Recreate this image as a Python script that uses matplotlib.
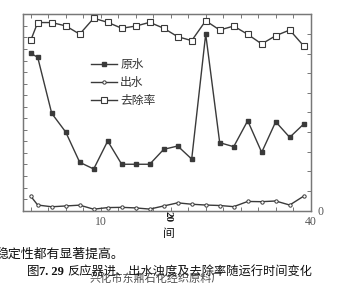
import matplotlib
matplotlib.use("Agg")
import matplotlib.pyplot as plt
import numpy as np

days = [0, 1, 3, 5, 7, 9, 11, 13, 15, 17, 19, 21, 23, 25, 27, 29, 31, 33, 35, 37, 39]
raw_water = [13.62, 13.28, 8.43, 6.81, 4.19, 3.61, 6.03, 4.02, 4.02, 4.02, 5.31, 5.60,
             4.47, 15.29, 5.89, 5.54, 7.79, 5.05, 7.70, 6.35, 7.50]
out_water = [1.26, 0.49, 0.34, 0.41, 0.48, 0.13, 0.27, 0.29, 0.24, 0.14, 0.41, 0.68,
             0.56, 0.49, 0.45, 0.35, 0.80, 0.78, 0.84, 0.49, 1.26]
removal = [86.7, 95.8, 95.8, 94.1, 89.9, 98.0, 95.9, 92.9, 94.0, 95.9, 92.9, 88.6,
           86.6, 96.7, 92.0, 94.0, 89.8, 84.9, 89.1, 92.0, 83.9]
xtick_labels = {10: "10", 40: "40"}
legend_labels = ["原水", "出水", "去除率"]

W, H = 356, 295
fig = plt.figure(figsize=(W / 100, H / 100), dpi=100)
fig.patch.set_facecolor("white")
ax = fig.add_axes([23 / W, (H - 210.7) / H, 287.7 / W, 196.4 / H])
ax2 = ax.twinx()

lc = "#3a3a3a"
cjk = ["Noto Sans CJK SC", "DejaVu Sans"]

l1, = ax.plot(days, raw_water, color=lc, lw=1.0, marker="s", ms=3.2,
              mfc=lc, mec=lc)
l2, = ax.plot(days, out_water, color=lc, lw=1.0, marker="o", ms=2.4,
              mfc="white", mec=lc, mew=0.7)
l3, = ax2.plot(days, removal, color=lc, lw=1.0, marker="s", ms=4.4,
               mfc="white", mec=lc, mew=0.8)

ax.set_xlim(-1.1, 40)
ax.set_ylim(0, 17)
ax2.set_ylim(0, 100)

xt = np.arange(0, 40.1, 2.5)
ax.set_xticks(xt)
ax.set_xticklabels([xtick_labels.get(int(t), "") if t == int(t) else "" for t in xt],
                   family="Liberation Serif", fontsize=8.5, color="#555555")
ax.tick_params(axis="x", pad=3)
ax.set_yticks(np.arange(0, 17.1, 1))
ax.set_yticklabels([])
ax2.set_yticks(np.arange(0, 100.1, 10))
ax2.set_yticklabels(["0"] + [""] * 10, family="Liberation Serif", fontsize=8.5, color="#555555")

for a in (ax, ax2):
    for s in a.spines.values():
        s.set_color("#777777")
        s.set_linewidth(0.9)
ax.tick_params(axis="x", direction="in", length=3, width=0.7, color="#777777",
               top=True, pad=4)
ax.tick_params(axis="y", direction="in", length=3, width=0.7, color="#777777")
ax2.tick_params(axis="y", direction="in", length=3, width=0.7, color="#777777", pad=5)

leg = ax.legend([l1, l2, l3], legend_labels, loc="upper left",
                bbox_to_anchor=(0.198, 0.83), frameon=False,
                prop={"family": cjk, "size": 8.5}, handlelength=2.2,
                handletextpad=0.3, labelspacing=0.42, labelcolor="#333333")

# rotated "20" tick label and axis label fragment
fig.text(168 / W, 1 - 217 / H, "20", rotation=270, ha="center", va="center",
         fontsize=8, fontweight="bold", family="Liberation Serif", color="#111111")
fig.text(169 / W, 1 - 233 / H, "间", ha="center", va="center",
         fontsize=8.5, family=cjk, color="#111111")

fig.text(-4 / W, 1 - 254 / H, "稳定性都有显著提高。", ha="left", va="center",
         fontsize=9.3, family=cjk, color="#111111")
fig.text(27 / W, 1 - 272 / H, "图", ha="left", va="center",
         fontsize=9, family=cjk, color="#111111")
fig.text(39 / W, 1 - 272 / H, "7. 29", ha="left", va="center",
         fontsize=9, fontweight="bold", family="Liberation Serif", color="#111111")
fig.text(67 / W, 1 - 272 / H, "反应器进、出水浊度及去除率随运行时间变化", ha="left", va="center",
         fontsize=8.8, family=cjk, color="#111111")
fig.text(90 / W, 1 - 279 / H, "兴化市东鼎石化经织原料厂", ha="left", va="center",
         fontsize=8, family=cjk, color="#222222", alpha=0.8)

fig.savefig("out.png", dpi=100, facecolor="white")
